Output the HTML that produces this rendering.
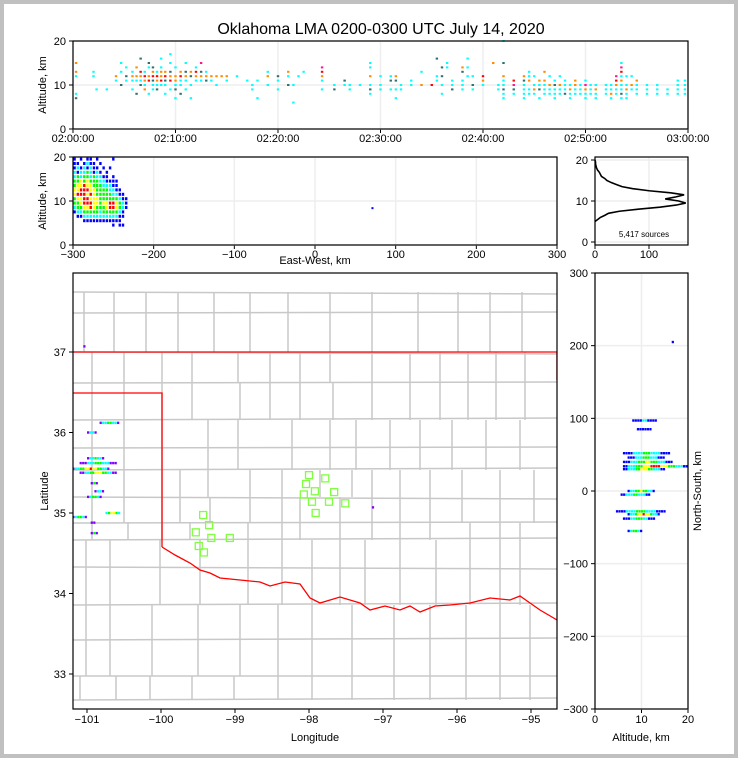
<!DOCTYPE html>
<html><head><meta charset="utf-8">
<style>
html,body{margin:0;padding:0;background:#c0c0c0;}
svg{display:block;}
text{font-family:"Liberation Sans",sans-serif;fill:#000;}
</style></head>
<body>
<svg id="chart" width="738" height="758" viewBox="0 0 738 758" xmlns="http://www.w3.org/2000/svg">
<rect x="4" y="4" width="730" height="750" fill="#fff"/>
<text x="381" y="34" font-size="16" text-anchor="middle">Oklahoma LMA 0200-0300 UTC July 14, 2020</text>
<g id="layer"></g>
</svg>
<script>
// ---- data ----
const timeTicks = ["02:00:00","02:10:00","02:20:00","02:30:00","02:40:00","02:50:00","03:00:00"];
const tMinutes = [0.3,2,2.3,3.3,4.2,4.7,5.2,5.8,6.2,6.6,7,7.4,7.8,8.2,8.6,9,9.5,10,10.5,11,11.5,12,12.5,13,13.5,14,14.5,15,16,17,17.5,18,19,20,21,21.5,22,22.5,24.3,25.5,26.5,27,28,29,30,31,31.5,32,33,34,35,35.5,36,36.5,37,38,38.5,39,40,41,41.5,42,43,44,44.5,45,45.5,46,46.5,47,47.5,48,48.5,49,49.5,50,50.5,51,52,52.5,53,53.5,54,54.5,55,56,57,58,59,59.7];
const tAlts = [[15,13,12,8,7],[13,12],[9],[9],[12,11],[13,15,10],[12,11,14],[13,11,12,9],[12,11,14,8],[12,13,10,11,16],[12,11,13,10,9],[12,11,14,8,15],[12,13,11,10,9,14],[12,11,13,10,9],[12,11,13,10,14,16],[12,13,11,10,8],[12,11,13,9,15,17],[12,11,10,14,9,7],[12,13,11,10,8],[12,11,13,9,15],[12,13,10,7],[12,11,14,13],[15,13,12,11],[12,11,13],[12,11],[12,10],[12],[12,11],[12],[11],[9,10],[11,7],[12,10,13],[11,12,9],[12,13,10],[6,10],[12],[13],[14,13,12,11,9],[10,9],[11,10],[10,9],[10],[15,14,12,10,9,8],[10,9,12],[11,9,12],[12,11,9,7],[10,9],[11,10],[13,10],[10],[16,12,11],[12,10,8,14],[15,14],[11,10,9],[14,13,11,10,9],[16,14,12],[12,10,9],[11,10,12],[15],[10,9],[20,15,12,11,10,9,8,7],[11,10,9,8],[12,11,10,9,8,7],[13,12,11,9,8],[12,10,9,8],[11,10,9,7],[13,11,10,9,8],[12,10,9,8],[11,10,9,8,7],[12,10,9,8],[11,10,9,8],[10,9,8,7],[11,10,9,8],[10,9,8],[11,10,9,8,7],[10,9,8],[10,9,8,7],[10,9,8],[10,9,8,7],[12,11,10,9,8],[15,14,13,12,11,10,9,8,7],[12,10,9,8,7],[12,10,9],[11,10,9,8],[10,9,8],[10,9,8],[9,8],[11,10,9,8],[11,10,9,8]];
const tCols = ["oocct","cc","c","c","oc","cct","tcc","ccoc","ocot","ortct","rocco","orcct","rotcct","rocct","oroccc","rotcc","ortccc","oocct","rocct","octcc","tocc","occr","mtoc","otc","oc","oc","o","oc","c","c","cc","cc","occ","ctc","cot","cc","c","c","mrocc","ct","tc","cc","c","ccoct","ccc","tcc","otcc","cc","cc","co","r","tcc","tcct","cc","cct","otcc","ccc","ctc","ocr","o","cc","ctocct","rmtc","otcc","ccoc","ccoc","octc","oocc","cocc","ctcc","cocc","ccct","cocc","oocc","ccc","cmocc","ccc","cocc","ccc","ccoc","mrocc","cmrcocctc","ccocc","coc","occc","ccc","ccc","cc","cccc","cccc"];

const ewTicks = [-300,-200,-100,0,100,200,300];
const ewCols = [-300,-296,-292,-288,-284,-280,-276,-272,-268,-264,-260,-256,-252,-248,-244,-240,-236];
const ewAltRows = [20,19,18,17,16,15,14,13,12,11,10,9,8,7,6,5];
const ewDensity = [
[1,0,1,0,1,1,0,1,0,0,0,0,1,0,0,0,0],
[1,1,0,1,2,1,1,0,1,0,0,0,0,0,0,0,0],
[1,2,1,2,1,2,1,1,0,1,0,1,0,0,0,0,0],
[2,1,2,2,3,2,1,2,1,0,1,0,0,0,0,0,0],
[2,3,2,3,3,2,3,2,2,1,1,0,1,0,0,0,0],
[3,3,4,3,4,3,3,3,2,2,1,1,1,1,0,0,0],
[3,4,4,5,4,4,3,3,3,2,2,2,1,1,0,0,0],
[4,4,5,5,5,4,4,3,3,3,3,2,2,1,1,0,0],
[4,5,5,5,4,5,4,3,3,3,3,3,2,2,1,1,0],
[3,4,4,5,5,4,4,4,3,3,3,3,3,3,2,1,1],
[3,3,4,5,5,5,4,4,3,4,4,5,5,4,3,2,1],
[2,3,3,4,4,5,4,3,3,3,4,5,5,4,3,2,1],
[1,2,2,3,3,3,3,3,2,3,3,3,3,3,2,1,0],
[0,1,1,2,2,2,2,2,2,2,2,2,2,2,1,1,0],
[0,0,0,1,1,1,1,1,1,1,1,1,1,1,1,0,0],
[0,0,0,0,0,0,0,0,0,0,0,0,1,0,1,1,0]];

const histAlts = [5,5.5,6,6.5,7,7.5,8,8.5,9,9.5,10,10.5,11,11.5,12,12.5,13,13.5,14,14.5,15,15.5,16,16.5,17,17.5,18,18.5,19,19.5,20];
const histCounts = [0,5,10,18,25,45,80,120,150,168,155,130,150,165,140,100,70,50,40,30,22,18,12,10,8,5,3,2,1,1,0];
const histTicksX = [0,100];
const altTicks = [0,10,20];

const lonTicks = [-101,-100,-99,-98,-97,-96,-95];
const latTicks = [33,34,35,36,37];
const srcLat = [36.12,36.0,35.68,35.62,35.55,35.5,35.37,35.27,35.2,35.0,34.95,34.88,34.75,37.07,35.07];
const srcLonLo = [-100.83,-101.0,-101.0,-101.1,-101.2,-101.1,-100.95,-100.9,-101.0,-100.75,-101.2,-100.95,-100.95,-101.05,-97.15];
const srcLonHi = [-100.55,-100.85,-100.75,-100.6,-100.7,-100.6,-100.85,-100.75,-100.8,-100.55,-101.0,-100.88,-100.85,-101.04,-97.14];
const srcPeak = [3,2,3,3,5,4,3,3,3,5,3,2,3,1,1];
const staLon = [-98.0,-97.78,-98.04,-97.92,-98.07,-97.66,-97.96,-97.73,-97.51,-97.91,-99.43,-99.35,-99.53,-99.32,-99.07,-99.49,-99.42];
const staLat = [35.47,35.43,35.36,35.27,35.23,35.26,35.14,35.14,35.12,35.0,34.975,34.85,34.76,34.69,34.69,34.59,34.51];

const nsTicks = [-300,-200,-100,0,100,200,300];
const nsAltTicks = [0,10,20];
const nsBand = [97,85,52,46,40,34,30,0,-5,-28,-32,-38,-55,205];
const nsAltLo = [8,9,6,7,6,6,6,7,5.5,4.5,7,6,7,16.5];
const nsAltHi = [13.5,12,16,15,17,20,15,13,12,15,14,13,10,17];
const nsPeak = [2,1,3,3,4,5,4,4,3,3,5,3,4,1];

// ---- helpers ----
const NS='http://www.w3.org/2000/svg';
const layer=document.getElementById('layer');
function mk(tag,attrs,parent){const e=document.createElementNS(NS,tag);for(const k in attrs)e.setAttribute(k,attrs[k]);(parent||layer).appendChild(e);return e;}
const lvlColor=['none','#0000ff','#00ffff','#00ff00','#ffff00','#ff0000','#000000'];
const tColor={c:'#00ffff',t:'#2f6f6f',o:'#ff8c00',r:'#ff0000',m:'#ff1493'};

const tx=m=>73+m*10.25, ty=a=>129-a*4.4;
const ex=v=>315+v*0.8067, ey=a=>245-a*4.4;
const hx=c=>595+c*0.54, hy=a=>242-a*4.1;
const lx=l=>87+(l+101)*74, ly=l=>352-(l-37)*80.5;
const nx=a=>595+a*4.65, ny=v=>491-v*0.7267;

function grid(x1,y1,x2,y2,name){const g=mk('line',{x1,y1,x2,y2,stroke:'#eeeeee','stroke-width':1.5});}
function frame(x,y,w,h,name){const r=mk('rect',{x,y,width:w,height:h,fill:'none',stroke:'#000','stroke-width':1.2});}
function label(x,y,s,txt,anchor,name,rot){const t=mk('text',{x,y,'font-size':s,'text-anchor':anchor||'middle'});if(rot)t.setAttribute('transform','rotate(-90 '+x+' '+y+')');t.textContent=txt;return t;}
function tick(x1,y1,x2,y2){const l=mk('line',{x1,y1,x2,y2,stroke:'#000','stroke-width':1});}

// ===== Top panel =====
timeTicks.forEach((s,i)=>{const x=tx(i*10);grid(x,41,x,129,'time-gridline');tick(x,129,x,133);label(x,142,11,s,'middle','time-tick-label');});
altTicks.forEach(a=>{grid(73,ty(a),688,ty(a),'alt-gridline');tick(69,ty(a),73,ty(a));label(66,ty(a)+4,11,a,'end','alt-tick-label');});
tMinutes.forEach((m,i)=>{tAlts[i].forEach((a,j)=>{const r=mk('rect',{x:tx(m)-1.2,y:ty(a)-1,width:2.4,height:2,fill:tColor[tCols[i][j]]||'#00ffff'});

});});
frame(73,41,615,88,'time-height-axes');
label(46,85,11,'Altitude, km','middle','top-y-axis-title',true);

// ===== Middle-left =====
ewTicks.forEach(v=>{const x=ex(v);grid(x,157,x,245,'ew-gridline');tick(x,245,x,249);label(x,258,11,v<0?'\u2212'+(-v):v,'middle','ew-tick-label');});
altTicks.forEach(a=>{grid(73,ey(a),557,ey(a),'alt-gridline');tick(69,ey(a),73,ey(a));label(66,ey(a)+4,11,a,'end','alt-tick-label');});
ewDensity.forEach((row,ri)=>row.forEach((lv,ci)=>{if(!lv)return;const r=mk('rect',{x:ex(ewCols[ci])+0.4,y:ey(ewAltRows[ri])+0.6,width:2.4,height:3,fill:lvlColor[lv]});

}));
{const r=mk('rect',{x:ex(70),y:ey(8.6),width:2,height:2,fill:'#0000ff'});}
frame(73,157,484,88,'ew-height-axes');
label(315,264,11,'East-West, km','middle','ew-x-axis-title');
label(46,201,11,'Altitude, km','middle','mid-y-axis-title',true);

// ===== Histogram =====
histTicksX.forEach(c=>{const x=hx(c);grid(x,157,x,245,'hist-gridline');tick(x,245,x,249);label(x,258,11,c,'middle','hist-tick-label');});
altTicks.forEach(a=>{grid(595,hy(a),688,hy(a),'hist-gridline');tick(591,hy(a),595,hy(a));label(588,hy(a)+4,11,a,'end','hist-alt-tick-label');});
{const pts=histAlts.map((a,i)=>hx(histCounts[i])+','+hy(a)).join(' ');const p=mk('polyline',{points:pts,fill:'none',stroke:'#000','stroke-width':1.6});

}
frame(595,157,93,88,'histogram-axes');
label(644,237,8,'5,417 sources','middle','source-count-label');

// ===== Map =====
const clip=mk('clipPath',{id:'mapclip'});mk('rect',{x:73,y:273,width:484,height:436},clip);
const mg=mk('g',{'clip-path':'url(#mapclip)'});


const rowsY=[292,313,352,383,420,448,470,497,523,540,567,605,640,676,700];
const colsX=[[84,114,146,178,214,250,288,330,372,418,458,490,522],[84,114,146,178,214,250,288,330,372,418,458,490,522],[92,124,162,192,238,270,300,330,372,410,440,468,496,525],[92,124,162,192,240,270,300,333,372,410,440,468,496,525],[92,124,162,208,238,292,330,356,390,420,452,486,520],[92,124,162,208,238,292,330,356,390,420,452,486,520],[92,124,162,180,208,250,282,320,352,372,400,430,462,500,534],[92,124,162,180,210,250,282,300,340,372,400,430,462,500,534],[92,128,162,190,248,282,300,340,372,400,430,470,500,520],[86,110,160,200,248,282,312,340,365,400,436,470,500,520],[86,110,160,200,248,282,312,340,365,400,436,470,500,520],[86,110,152,198,240,278,312,352,394,430,466,500,530],[86,110,152,198,240,278,312,352,394,430,466,500,530],[80,116,150,192,234,278,312,352,394,430,466,500,530]];
rowsY.forEach(y=>{const l=mk('line',{x1:73,y1:y,x2:557,y2:y+((y*7)%5)-2,stroke:'#c8c8c8','stroke-width':1.5},mg);});
for(let i=0;i<rowsY.length-1;i++){colsX[Math.min(i,colsX.length-1)].forEach(x=>{const l=mk('line',{x1:x,y1:rowsY[i],x2:x,y2:rowsY[i+1],stroke:'#c8c8c8','stroke-width':1.5},mg);});}
const river='162,547 175,555 190,563 200,570 210,573 220,578 240,580 260,582 270,586 285,582 300,584 310,598 320,603 340,597 360,603 370,610 385,606 400,610 410,606 420,612 435,606 450,605 470,603 490,598 510,600 520,596 540,610 557,620';
{const p=mk('polyline',{points:'73,352 557,352 557,380',fill:'none',stroke:'#ff0000','stroke-width':1.3},mg);}
{const p=mk('polyline',{points:'73,393 162,393 162,547',fill:'none',stroke:'#ff0000','stroke-width':1.3},mg);}
{const p=mk('polyline',{points:river,fill:'none',stroke:'#ff0000','stroke-width':1.3},mg);}
srcLat.forEach((lat,i)=>{const x1=lx(srcLonLo[i]),x2=lx(srcLonHi[i]),n=Math.max(1,Math.round((x2-x1)/2.5));for(let k=0;k<n;k++){const d=Math.abs(k-(n-1)/2)/((n)/2+0.01);const lv=Math.max(1,Math.round(srcPeak[i]*(1-d*0.8)));
const r=mk('rect',{x:x1+k*2.5,y:ly(lat)-1.2,width:2.2,height:2.4,fill:lv===1?'#8000ff':lvlColor[lv]},mg);

}});
staLon.forEach((lon,i)=>{const r=mk('rect',{x:lx(lon)-3.5,y:ly(staLat[i])-3.5,width:7,height:7,fill:'none',stroke:'#7fff3f','stroke-width':1.3},mg);

});
lonTicks.forEach(l=>{tick(lx(l),709,lx(l),713);label(lx(l),723,11,'\u2212'+(-l),'middle','lon-tick-label');});
latTicks.forEach(l=>{tick(69,ly(l),73,ly(l));label(66,ly(l)+4,11,l,'end','lat-tick-label');});
frame(73,273,484,436,'map-axes');
label(315,741,11,'Longitude','middle','x-axis-title');
label(48,491,11,'Latitude','middle','y-axis-title',true);

// ===== Right panel =====
nsAltTicks.forEach(a=>{const x=nx(a);grid(x,273,x,709,'ns-gridline');tick(x,709,x,713);label(x,723,11,a,'middle','ns-alt-tick-label');});
nsTicks.forEach(v=>{grid(595,ny(v),688,ny(v),'ns-gridline');tick(591,ny(v),595,ny(v));label(588,ny(v)+4,11,v<0?'\u2212'+(-v):v,'end','ns-tick-label');});
nsBand.forEach((v,i)=>{const x1=nx(nsAltLo[i]),x2=nx(nsAltHi[i]),n=Math.max(1,Math.round((x2-x1)/2.5));for(let k=0;k<n;k++){const d=Math.abs(k-(n-1)/2)/((n)/2+0.01);const lv=Math.max(1,Math.round(nsPeak[i]*(1-d*0.85)));
const r=mk('rect',{x:x1+k*2.5,y:ny(v)-1.2,width:2.2,height:2.4,fill:lvlColor[lv]});

}});
frame(595,273,93,436,'ns-altitude-axes');
label(641,741,11,'Altitude, km','middle','ns-x-axis-title');
label(701,491,11,'North-South, km','middle','ns-y-axis-title',true);
</script>
</body></html>
